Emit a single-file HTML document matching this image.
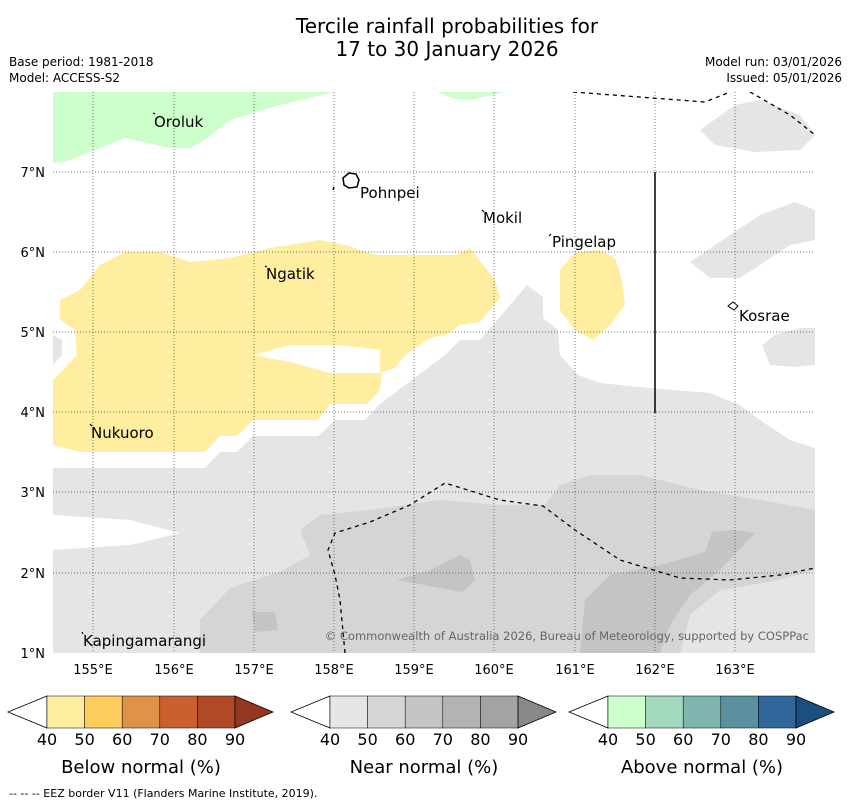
<!DOCTYPE html>
<html><head><meta charset="utf-8">
<style>
body{margin:0;background:#fff;font-family:"Liberation Sans",sans-serif;}
svg text{font-family:"DejaVu Sans","Liberation Sans",sans-serif;}
</style></head>
<body>
<svg width="850" height="804" viewBox="0 0 850 804" xmlns="http://www.w3.org/2000/svg">
<text x="447" y="33" font-size="20" text-anchor="middle">Tercile rainfall probabilities for</text>
<text x="447" y="56" font-size="20" text-anchor="middle">17 to 30 January 2026</text>
<text x="9" y="66" font-size="12">Base period: 1981-2018</text>
<text x="9" y="82" font-size="12">Model: ACCESS-S2</text>
<text x="842" y="66" font-size="12" text-anchor="end">Model run: 03/01/2026</text>
<text x="842" y="82" font-size="12" text-anchor="end">Issued: 05/01/2026</text>
<defs><clipPath id="mc"><rect x="53" y="92" width="762" height="561"/></clipPath></defs>
<g clip-path="url(#mc)">
<rect x="53" y="92" width="762" height="561" fill="#fff"/>
<path fill="#e5e5e5" d="M53,468 L205,468 L220,452 L237,452 L253,436 L318,436 L335,420 L365,420 L380,404 L445,355 L460,340 L480,340 L527,285 L543,297 L543,318 L558,330 L560,355 L578,375 L600,383 L650,388 L710,393 L740,405 L760,420 L790,440 L815,448 L815,653 L53,653 Z M53,515 L130,520 L180,533 L130,545 L53,550 Z" fill-rule="evenodd"/>
<path fill="#e5e5e5" d="M700,130 L735,105 L760,100 L800,115 L815,135 L800,150 L755,152 L715,145 Z M690,262 L730,235 L760,215 L795,202 L815,210 L815,240 L790,245 L760,265 L740,278 L710,278 Z M762,345 L775,335 L800,328 L815,328 L815,365 L795,367 L770,365 Z M53,335 L62,340 L62,355 L53,365 Z M53,610 L62,615 L65,635 L53,640 Z"/>
<path fill="#d5d5d5" d="M300,530 L320,515 L370,510 L440,500 L500,505 L545,505 L560,485 L590,475 L640,475 L700,490 L760,500 L815,510 L815,570 L770,582 L720,590 L690,615 L680,653 L200,653 L200,620 L230,588 L280,572 L310,555 Z"/>
<path fill="#c4c4c4" d="M580,653 L585,600 L610,575 L660,565 L705,552 L712,532 L735,530 L755,533 L720,570 L690,595 L670,625 L660,653 Z M397,580 L430,570 L460,555 L470,560 L475,580 L462,592 Z M252,612 L275,612 L278,630 L255,632 Z"/>
<path fill="#ccffcc" d="M53,92 L335,92 L280,105 L230,120 L205,140 L190,148 L170,148 L125,138 L90,152 L65,162 L53,163 Z M437,92 L505,92 L470,100 L455,99 Z"/>
<path fill="#ffeda0" fill-rule="evenodd" d="M60,300 L80,290 L100,265 L125,252 L160,252 L190,262 L230,258 L270,248 L320,240 L345,245 L375,255 L455,255 L470,248 L495,280 L500,298 L480,322 L460,325 L445,335 L430,338 L405,355 L395,368 L382,372 L380,390 L367,404 L330,404 L318,420 L253,420 L237,436 L220,436 L205,452 L80,452 L53,445 L53,380 L77,355 L75,330 L60,320 Z M253,355 L290,345 L340,345 L380,350 L380,373 L330,373 L290,362 Z M560,270 L575,252 L600,250 L615,258 L622,280 L625,305 L610,325 L593,340 L575,330 L560,310 Z"/>
<g stroke="#444" stroke-width="0.7" stroke-dasharray="1,2">
<line x1="93" y1="92" x2="93" y2="653"/><line x1="174" y1="92" x2="174" y2="653"/><line x1="254" y1="92" x2="254" y2="653"/><line x1="334" y1="92" x2="334" y2="653"/><line x1="414" y1="92" x2="414" y2="653"/><line x1="494" y1="92" x2="494" y2="653"/><line x1="575" y1="92" x2="575" y2="653"/><line x1="655" y1="92" x2="655" y2="653"/><line x1="735" y1="92" x2="735" y2="653"/>
<line x1="53" y1="172" x2="815" y2="172"/><line x1="53" y1="252" x2="815" y2="252"/><line x1="53" y1="332" x2="815" y2="332"/><line x1="53" y1="412" x2="815" y2="412"/><line x1="53" y1="492" x2="815" y2="492"/><line x1="53" y1="573" x2="815" y2="573"/>
</g>
<g fill="none" stroke="#000" stroke-width="1.3" stroke-dasharray="4,4">
<path d="M573,92 L705,102 L735,90"/><path d="M750,92 L790,115 L815,135"/>
<path d="M345,653 L340,600 L335,575 L328,550 L335,533 L370,522 L410,505 L445,483 L500,500 L543,506 L575,530 L620,560 L680,578 L730,580 L780,575 L815,568"/>
</g>
<line x1="655" y1="172" x2="655" y2="413" stroke="#000" stroke-width="1.5"/>
<path d="M343,178 L349,173 L356,174 L359,180 L357,187 L349,188 L344,185 Z" fill="#fff" stroke="#000" stroke-width="1.5"/>
<path d="M333,190 L334,187" stroke="#000" stroke-width="1.5"/>
<path d="M728,306 L733,302 L738,306 L734,310 Z" fill="#fff" stroke="#000"/>
<g stroke="#000" stroke-width="1.2">
<line x1="153" y1="113" x2="155" y2="114"/><line x1="482" y1="210" x2="484" y2="212"/><line x1="549" y1="236" x2="551" y2="234"/><line x1="265" y1="266" x2="267" y2="267"/><line x1="90" y1="424" x2="92" y2="426"/><line x1="82" y1="632" x2="83" y2="634"/>
</g>
<g font-size="15">
<text x="154" y="127">Oroluk</text><text x="360" y="198">Pohnpei</text><text x="483" y="223">Mokil</text><text x="552" y="247">Pingelap</text><text x="266" y="279">Ngatik</text><text x="739" y="321">Kosrae</text><text x="91" y="438">Nukuoro</text><text x="83" y="646">Kapingamarangi</text>
</g>
<text x="809" y="640" font-size="11.5" fill="#666" text-anchor="end">© Commonwealth of Australia 2026, Bureau of Meteorology, supported by COSPPac</text>
</g>
<g font-size="13" text-anchor="middle">
<text x="93" y="674">155°E</text><text x="174" y="674">156°E</text><text x="254" y="674">157°E</text><text x="334" y="674">158°E</text><text x="414" y="674">159°E</text><text x="494" y="674">160°E</text><text x="575" y="674">161°E</text><text x="655" y="674">162°E</text><text x="735" y="674">163°E</text>
</g>
<g font-size="13" text-anchor="end">
<text x="45" y="177">7°N</text><text x="45" y="257">6°N</text><text x="45" y="337">5°N</text><text x="45" y="417">4°N</text><text x="45" y="497">3°N</text><text x="45" y="578">2°N</text><text x="45" y="658">1°N</text>
</g>
<g id="bars"></g>
<text x="9" y="797" font-size="11">--  --  -- EEZ border V11 (Flanders Marine Institute, 2019).</text>
<script>
const barStarts=[47,330,608];
const barTitles=["Below normal (%)","Near normal (%)","Above normal (%)"];
const barColors=[["#ffeda0","#fecc5c","#e0914a","#cc5f30","#b04a26","#963722"],["#e6e6e6","#d5d5d5","#c4c4c4","#b3b3b3","#a3a3a3","#888888"],["#ccffcc","#a3d9bf","#80b6b0","#5a90a0","#30669a","#1a4f80"]];
const tickLabels=["40","50","60","70","80","90"];
const g=document.getElementById('bars');const NS='http://www.w3.org/2000/svg';
const w=37.6,y0=696,h=32;
barStarts.forEach((x0,b)=>{
 const grp=document.createElementNS(NS,'g');
 
 
 const lt=document.createElementNS(NS,'polygon');
 lt.setAttribute('points',`${x0},${y0} ${x0-39},${y0+h/2} ${x0},${y0+h}`);lt.setAttribute('fill','#fff');lt.setAttribute('stroke','#000');lt.setAttribute('stroke-width','0.8');
 
 
 grp.appendChild(lt);
 for(let i=0;i<5;i++){const r=document.createElementNS(NS,'rect');r.setAttribute('x',x0+i*w);r.setAttribute('y',y0);r.setAttribute('width',w);r.setAttribute('height',h);r.setAttribute('fill',barColors[b][i]);r.setAttribute('stroke','#000');r.setAttribute('stroke-width','0.5');
 
 
 grp.appendChild(r);}
 const xe=x0+5*w;
 const rt=document.createElementNS(NS,'polygon');
 rt.setAttribute('points',`${xe},${y0} ${xe+38},${y0+h/2} ${xe},${y0+h}`);rt.setAttribute('fill',barColors[b][5]);rt.setAttribute('stroke','#000');rt.setAttribute('stroke-width','0.8');
 
 
 grp.appendChild(rt);
 tickLabels.forEach((t,i)=>{const tx=document.createElementNS(NS,'text');tx.setAttribute('x',x0+i*w);tx.setAttribute('y',745);tx.setAttribute('font-size','16');tx.setAttribute('text-anchor','middle');tx.textContent=t;
 
 
 grp.appendChild(tx);});
 const ti=document.createElementNS(NS,'text');ti.setAttribute('x',x0+2.5*w);ti.setAttribute('y',773);ti.setAttribute('font-size','18');ti.setAttribute('text-anchor','middle');ti.textContent=barTitles[b];
 
 
 grp.appendChild(ti);
 g.appendChild(grp);
});
</script>
</svg>
</body></html>
